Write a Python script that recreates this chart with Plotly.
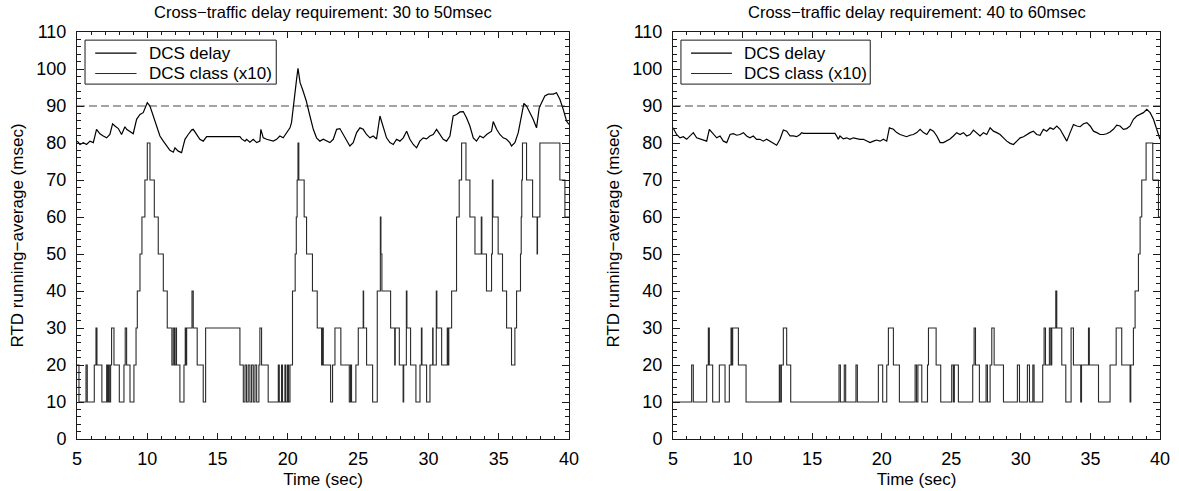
import plotly.graph_objects as go

# ---------------- data ----------------
titles = ["Cross\u2212traffic delay requirement: 30 to 50msec",
          "Cross\u2212traffic delay requirement: 40 to 60msec"]
threshold = 90
series_names = ["DCS delay", "DCS class (x10)"]

left_delay_t = [5.02, 5.21, 5.45, 5.68, 5.92, 6.16, 6.39, 6.63, 6.87, 7.11, 7.34, 7.53, 7.70, 7.94, 8.17,
                8.41, 8.53, 8.77, 9.0, 9.24, 9.48, 9.71, 10.0, 10.19, 10.43, 10.66, 10.9, 11.14, 11.37,
                11.61, 11.85, 11.97, 12.2, 12.44, 12.56, 12.68, 12.91, 13.15, 13.27, 13.51, 13.74, 13.98,
                14.15, 14.22, 16.59, 16.71, 16.95, 17.06, 17.3, 17.54, 17.78, 18.01, 18.08, 18.25, 18.49,
                18.96, 19.2, 19.43, 19.67, 19.91, 20.15, 20.26, 20.38, 20.5, 20.62, 20.72, 20.87, 21.07,
                21.3, 21.57, 21.81, 22.04, 22.28, 22.52, 22.76, 22.99, 23.23, 23.47, 23.70, 23.94, 24.18,
                24.41, 24.65, 24.89, 25.13, 25.36, 25.6, 25.84, 26.07, 26.31, 26.55, 26.79, 27.02, 27.26,
                27.5, 27.73, 27.97, 28.21, 28.45, 28.68, 28.92, 29.16, 29.39, 29.63, 29.87, 30.1, 30.34,
                30.58, 30.82, 31.05, 31.29, 31.53, 31.76, 32.0, 32.24, 32.48, 32.71, 32.95, 33.19, 33.42,
                33.66, 33.9, 34.14, 34.49, 34.61, 34.85, 35.08, 35.32, 35.56, 35.79, 35.91, 36.15, 36.39,
                36.62, 36.79, 36.98, 37.22, 37.45, 37.69, 37.88, 38.05, 38.28, 38.52, 38.88, 39.11, 39.35,
                39.59, 39.83, 40.0]
left_delay_v = [80.5, 79.6, 80.1, 79.6, 80.5, 80.1, 83.7, 82.5, 81.9, 81.4, 82.3, 85.2, 84.6, 83.9, 82.3,
                84.4, 83.7, 83.2, 82.5, 86.4, 87.7, 88.2, 90.9, 90.0, 87.3, 84.1, 81.9, 80.5, 79.2,
                78.0, 77.5, 78.7, 77.8, 77.4, 79.2, 81.0, 82.3, 83.5, 83.7, 82.3, 81.0, 80.5,
                81.4, 81.7, 81.7, 81.1, 80.5, 81.0, 80.2, 81.0, 80.1, 80.5, 83.7, 81.4, 81.0,
                80.5, 81.0, 81.9, 81.4, 82.8, 84.1, 85.5, 90.0, 94.5, 97.2, 100.2, 96.3, 94.2,
                91.5, 87.3, 83.7, 81.4, 80.5, 81.0, 80.5, 80.1, 81.0, 83.7, 83.9, 82.3, 80.5,
                79.2, 80.1, 82.8, 84.1, 83.7, 82.3, 81.4, 81.9, 81.1, 87.3, 84.6, 81.4, 80.1,
                79.6, 81.0, 80.5, 81.4, 83.2, 81.0, 79.6, 78.7, 80.5, 81.4, 81.1, 81.9, 82.3,
                83.7, 82.3, 81.0, 80.5, 81.9, 87.3, 87.7, 88.4, 88.5, 86.8, 84.6, 81.4, 80.5,
                81.9, 81.4, 82.3, 83.2, 85.8, 83.7, 82.3, 81.4, 81.0, 80.1, 79.2, 80.1, 82.8,
                87.3, 90.7, 90.0, 88.2, 86.4, 84.1, 89.5, 90.9, 92.7, 93.2, 93.2, 93.6, 91.8,
                89.1, 85.9, 85.0]

left_class_steps = [
    (5.0, 20), (5.14, 10), (5.64, 20), (5.73, 10), (6.23, 20), (6.35, 30), (6.42, 20), (6.77, 10),
    (7.11, 20), (7.15, 10), (7.22, 20), (7.30, 10), (7.39, 20), (7.46, 30), (7.63, 20), (8.01, 10),
    (8.34, 20), (8.43, 30), (8.53, 20), (8.77, 10), (9.05, 20), (9.20, 30), (9.29, 40), (9.48, 50),
    (9.62, 60), (9.83, 70), (10.0, 80), (10.19, 70), (10.5, 60), (10.78, 50), (11.14, 40), (11.42, 30),
    (11.75, 20), (11.85, 30), (11.94, 20), (12.04, 30), (12.08, 20), (12.32, 10), (12.61, 20),
    (12.70, 30), (12.75, 20), (12.80, 30), (13.18, 40), (13.27, 30), (13.55, 20), (13.98, 10),
    (14.15, 30), (16.59, 20), (16.83, 10), (16.95, 20), (17.06, 10), (17.18, 20), (17.30, 10),
    (17.42, 20), (17.54, 10), (17.66, 20), (17.78, 10), (17.94, 20), (18.01, 30), (18.13, 20),
    (18.60, 10), (19.32, 20), (19.39, 10), (19.55, 20), (19.62, 10), (19.79, 20), (19.86, 10),
    (19.98, 20), (20.05, 10), (20.15, 20), (20.33, 40), (20.52, 50), (20.60, 60), (20.66, 70),
    (20.72, 80), (20.78, 70), (21.16, 60), (21.33, 50), (21.75, 40), (22.09, 30), (22.40, 20),
    (22.45, 30), (22.52, 20), (23.04, 10), (23.18, 20), (23.35, 30), (23.77, 20), (24.37, 10),
    (24.46, 20), (24.53, 10), (24.84, 20), (25.01, 30), (25.36, 40), (25.39, 30), (25.6, 20),
    (26.03, 10), (26.36, 40), (26.58, 60), (26.62, 50), (26.69, 40), (27.31, 30), (27.60, 20),
    (27.64, 30), (27.93, 20), (28.20, 10), (28.24, 20), (28.43, 40), (28.47, 30), (28.73, 20),
    (29.11, 10), (29.40, 20), (29.50, 30), (29.54, 20), (29.87, 10), (30.11, 20), (30.30, 30),
    (30.33, 20), (30.56, 40), (30.60, 30), (30.94, 20), (31.34, 30), (31.38, 20), (31.45, 30),
    (31.65, 40), (32.0, 60), (32.19, 70), (32.36, 80), (32.67, 70), (32.95, 60), (33.31, 50),
    (33.76, 60), (33.80, 50), (34.13, 40), (34.49, 50), (34.55, 70), (34.59, 60), (34.96, 50),
    (35.27, 40), (35.56, 30), (35.91, 20), (36.15, 30), (36.27, 40), (36.55, 50), (36.60, 60),
    (36.64, 70), (36.69, 80), (36.98, 70), (37.41, 60), (37.73, 50), (37.76, 60), (37.93, 80),
    (39.35, 70), (39.71, 60), (40.0, 60)]

right_delay_t = [5.0, 5.26, 5.5, 5.74, 5.98, 6.22, 6.46, 6.7, 6.94, 7.18, 7.42, 7.61, 7.9, 8.14, 8.38,
                 8.62, 8.86, 9.1, 9.34, 9.58, 9.82, 10.06, 10.29, 10.53, 10.77, 11.01, 11.25, 11.49,
                 11.73, 11.97, 12.21, 12.45, 12.69, 12.93, 13.17, 13.41, 13.65, 13.89, 14.13, 14.25,
                 14.37, 16.64, 16.76, 16.88, 17.0, 17.24, 17.48, 17.72, 17.96, 18.2, 18.44, 18.68,
                 18.92, 19.16, 19.4, 19.64, 19.88, 20.12, 20.36, 20.55, 20.84, 21.08, 21.32, 21.55,
                 21.79, 22.03, 22.28, 22.52, 22.76, 23.0, 23.24, 23.48, 23.72, 23.96, 24.2, 24.44,
                 24.68, 24.91, 25.15, 25.39, 25.63, 25.87, 26.11, 26.35, 26.59, 26.83, 27.07, 27.31,
                 27.55, 27.79, 28.03, 28.27, 28.51, 28.75, 28.99, 29.23, 29.47, 29.71, 29.95, 30.19,
                 30.43, 30.66, 30.9, 31.14, 31.38, 31.62, 31.86, 32.1, 32.34, 32.58, 32.82, 33.06,
                 33.3, 33.54, 33.78, 34.02, 34.26, 34.5, 34.74, 34.98, 35.22, 35.46, 35.7, 35.94,
                 36.17, 36.41, 36.65, 36.89, 37.13, 37.37, 37.61, 37.85, 38.09, 38.33, 38.57, 38.81,
                 39.05, 39.29, 39.53, 39.77, 40.0]
right_delay_v = [84.1, 82.3, 81.4, 81.7, 81.0, 81.9, 82.8, 81.4, 81.1, 81.0, 80.5, 83.7, 82.3, 81.4, 81.9,
                 80.5, 80.1, 82.3, 82.5, 82.1, 82.3, 82.8, 81.9, 81.4, 81.9, 81.0, 81.0, 80.5,
                 81.0, 80.5, 80.1, 79.4, 81.0, 83.5, 83.2, 81.9, 81.9, 81.7, 82.3, 82.8,
                 82.6, 82.6, 81.9, 81.0, 81.9, 81.1, 81.4, 81.0, 81.4, 81.1, 81.0, 81.0,
                 80.5, 80.1, 80.5, 80.8, 80.5, 81.0, 80.5, 84.1, 83.7, 82.8, 82.3, 81.9,
                 81.7, 82.1, 82.3, 82.8, 83.7, 82.8, 82.3, 83.7, 83.2, 81.9, 80.1, 80.1,
                 80.5, 81.1, 81.9, 82.8, 82.3, 82.8, 81.9, 82.3, 83.5, 82.8, 81.9, 82.8,
                 82.3, 84.1, 83.2, 82.8, 82.3, 81.4, 80.5, 79.9, 79.6, 80.5, 81.4, 81.7,
                 82.3, 82.8, 83.2, 82.3, 82.1, 83.7, 83.2, 84.1, 83.7, 84.6, 83.7, 81.9,
                 80.5, 82.8, 85.0, 84.6, 84.4, 85.2, 85.5, 84.6, 83.2, 82.8, 82.3, 82.3,
                 82.5, 83.0, 83.7, 84.8, 84.6, 83.7, 83.9, 84.6, 86.4, 87.3, 87.7, 88.2,
                 89.1, 88.2, 86.4, 83.7, 81.0]

right_class_steps = [
    (5.0, 10), (6.34, 20), (6.46, 10), (7.42, 20), (7.54, 30), (7.61, 20), (7.85, 10), (8.33, 20),
    (8.74, 10), (9.05, 20), (9.17, 30), (9.22, 20), (9.29, 30), (9.7, 20), (10.25, 10), (12.64, 20),
    (12.70, 10), (12.79, 20), (12.93, 30), (13.17, 20), (13.46, 10), (16.93, 20), (17.03, 10),
    (17.31, 20), (17.41, 10), (18.15, 20), (18.25, 10), (19.76, 20), (20.07, 10), (20.36, 20),
    (20.48, 30), (20.84, 20), (21.27, 10), (22.40, 20), (22.50, 10), (22.60, 20), (22.88, 10),
    (23.29, 20), (23.36, 30), (23.91, 20), (24.24, 10), (25.03, 20), (25.15, 10), (25.22, 20),
    (25.51, 10), (26.54, 20), (26.64, 30), (26.74, 20), (27.02, 10), (27.5, 20), (27.6, 10),
    (27.79, 20), (27.91, 30), (28.08, 20), (28.75, 10), (29.75, 20), (29.9, 10), (30.47, 20),
    (30.62, 10), (30.86, 20), (30.95, 10), (31.57, 20), (31.67, 30), (31.77, 20), (32.05, 30),
    (32.15, 20), (32.22, 30), (32.51, 40), (32.58, 30), (32.94, 20), (33.23, 10), (33.61, 30),
    (33.78, 20), (34.30, 10), (34.36, 20), (34.86, 30), (34.92, 20), (35.58, 10), (36.41, 20),
    (36.85, 30), (37.25, 20), (37.85, 10), (37.9, 20), (38.09, 30), (38.21, 40), (38.45, 50),
    (38.57, 60), (38.69, 70), (39.0, 80), (39.48, 70), (39.89, 60), (40.0, 60)]

x_range = [5, 40]
y_range = [0, 110]
x_ticks = [5, 10, 15, 20, 25, 30, 35, 40]
y_ticks = [0, 10, 20, 30, 40, 50, 60, 70, 80, 90, 100, 110]

# ---------------- figure ----------------
W, H = 1179, 491
ML, MR, MT, MB = 77, 19, 32, 52
PW = W - ML - MR
PH = H - MT - MB
FONT = "Liberation Sans, Arial, sans-serif"
AXC = "#1a1a1a"
DELAY_COLOR = "black"
CLASS_COLOR = "#2a2a2a"
fig = go.Figure()

panels = [
    dict(delay_t=left_delay_t, delay_v=left_delay_v, steps=left_class_steps, xa="x", ya="y"),
    dict(delay_t=right_delay_t, delay_v=right_delay_v, steps=right_class_steps, xa="x2", ya="y2"),
]

for p in panels:
    ct = [s[0] for s in p["steps"]]
    cv = [s[1] for s in p["steps"]]
    fig.add_trace(go.Scatter(x=x_range, y=[threshold, threshold], mode="lines",
                             line=dict(color="#4a4a4a", width=1.2, dash="8px,4px"),
                             showlegend=False, hoverinfo="skip",
                             xaxis=p["xa"], yaxis=p["ya"]))
    fig.add_trace(go.Scatter(x=p["delay_t"], y=p["delay_v"], mode="lines",
                             name=series_names[0], line=dict(color=DELAY_COLOR, width=1.2),
                             showlegend=False, xaxis=p["xa"], yaxis=p["ya"]))
    fig.add_trace(go.Scatter(x=ct, y=cv, mode="lines", line_shape="hv",
                             name=series_names[1], line=dict(color=CLASS_COLOR, width=1.1),
                             showlegend=False, xaxis=p["xa"], yaxis=p["ya"]))

dom_l = [0, (569 - ML) / PW]
dom_r = [(673 - ML) / PW, 1.0]

def xaxis(dom, anchor):
    return dict(domain=dom, anchor=anchor, range=x_range, tickvals=x_ticks,
                showline=True, linecolor=AXC, linewidth=1, mirror="ticks",
                ticks="inside", ticklen=6, tickcolor=AXC, showgrid=False, zeroline=False,
                minor=dict(dtick=1, ticks="inside", ticklen=3, tickcolor=AXC),
                tickfont=dict(family=FONT, size=18, color="black"), ticklabelstandoff=3,
                title=dict(text="Time (sec)", font=dict(family=FONT, size=17, color="black"),
                           standoff=5))

def yaxis(anchor):
    return dict(domain=[0, 1], anchor=anchor, range=y_range, tickvals=y_ticks,
                showline=True, linecolor=AXC, linewidth=1, mirror="ticks",
                ticks="inside", ticklen=7, tickcolor=AXC, showgrid=False, zeroline=False,
                minor=dict(dtick=2, ticks="inside", ticklen=4, tickcolor=AXC),
                tickfont=dict(family=FONT, size=18, color="black"), ticklabelstandoff=6,
                title=dict(text="RTD running\u2212average (msec)",
                           font=dict(family=FONT, size=17, color="black"), standoff=8))

# legend drawn inside each panel (box, line samples, labels)
LEG_BOX_X = [0.0163, 0.405]
LEG_BOX_Y = [0.872, 0.980]
LEG_LINE_X = [0.037, 0.121]
LEG_ROW_Y = [0.948, 0.898]
LEG_TEXT_X = 0.142

shapes, annotations = [], []
for i, (xa, ya) in enumerate([("x", "y"), ("x2", "y2")]):
    xr, yr = f"{xa} domain", f"{ya} domain"
    shapes.append(dict(type="rect", xref=xr, yref=yr, x0=LEG_BOX_X[0], x1=LEG_BOX_X[1],
                       y0=LEG_BOX_Y[0], y1=LEG_BOX_Y[1],
                       line=dict(color=AXC, width=1), fillcolor="white", layer="above"))
    for j, (name, col) in enumerate(zip(series_names, [DELAY_COLOR, CLASS_COLOR])):
        shapes.append(dict(type="line", xref=xr, yref=yr, x0=LEG_LINE_X[0], x1=LEG_LINE_X[1],
                           y0=LEG_ROW_Y[j], y1=LEG_ROW_Y[j], line=dict(color=col, width=1.1),
                           layer="above"))
        annotations.append(dict(text=name, xref=xr, yref=yr, x=LEG_TEXT_X, y=LEG_ROW_Y[j],
                                xanchor="left", yanchor="middle", showarrow=False,
                                font=dict(family=FONT, size=17, color="black")))
    annotations.append(dict(text=titles[i], xref=xr, yref=yr, x=0.5, y=(PH + MT - 12) / PH,
                            xanchor="center", yanchor="middle", showarrow=False,
                            font=dict(family=FONT, size=16.5, color="black")))

fig.update_layout(
    width=W, height=H, margin=dict(l=ML, r=MR, t=MT, b=MB, autoexpand=False),
    paper_bgcolor="white", plot_bgcolor="white",
    xaxis=xaxis(dom_l, "y"), yaxis=yaxis("x"),
    xaxis2=xaxis(dom_r, "y2"), yaxis2=yaxis("x2"),
    shapes=shapes, annotations=annotations,
    showlegend=False,
)

fig.write_html("out.html")
